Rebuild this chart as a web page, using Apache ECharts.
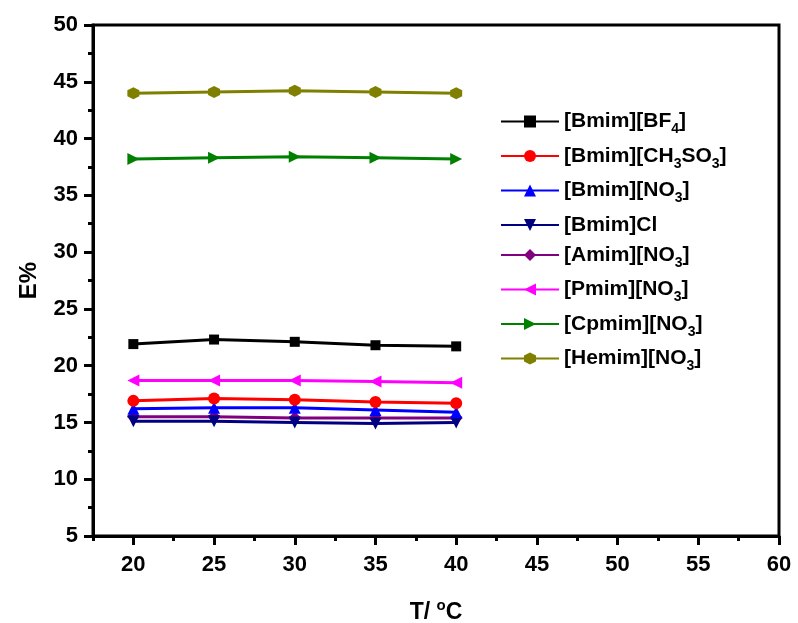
<!DOCTYPE html>
<html>
<head>
<meta charset="utf-8">
<script src="https://cdn.jsdelivr.net/npm/echarts@6/dist/echarts.min.js"></script>
<style>
  html, body { margin: 0; padding: 0; background: #fff; }
  #chart { width: 798px; height: 623px; }
</style>
</head>
<body>
<div id="chart"></div>
<script>
const temps = [20, 25, 30, 35, 40]
const names = ['[Bmim][BF4]', '[Bmim][CH3SO3]', '[Bmim][NO3]', '[Bmim]Cl', '[Amim][NO3]', '[Pmim][NO3]', '[Cpmim][NO3]', '[Hemim][NO3]']
const legendLabels = ['[Bmim][BF{s|4}]', '[Bmim][CH{s|3}SO{s|3}]', '[Bmim][NO{s|3}]', '[Bmim]Cl', '[Amim][NO{s|3}]', '[Pmim][NO{s|3}]', '[Cpmim][NO{s|3}]', '[Hemim][NO{s|3}]']
const bf4 = [21.9, 22.3, 22.1, 21.8, 21.7]
const ch3so3 = [16.9, 17.1, 17.0, 16.8, 16.7]
const no3 = [16.2, 16.3, 16.3, 16.1, 15.9]
const cl = [15.1, 15.1, 15.0, 14.9, 15.0]
const amim = [15.5, 15.5, 15.4, 15.4, 15.4]
const pmim = [18.7, 18.7, 18.7, 18.6, 18.5]
const cpmim = [38.2, 38.3, 38.4, 38.3, 38.2]
const hemim = [44.0, 44.1, 44.2, 44.1, 44.0]
const xMajor = [20, 25, 30, 35, 40, 45, 50, 55, 60]
const xMinor = [17.5, 22.5, 27.5, 32.5, 37.5, 42.5, 47.5, 52.5, 57.5]

const allData = [bf4, ch3so3, no3, cl, amim, pmim, cpmim, hemim]
const colors = ['#000000', '#ff0000', '#0000ff', '#000080', '#800080', '#ff00ff', '#008000', '#808000']
const hexagon = 'path://M0,-10L8.66,-5L8.66,5L0,10L-8.66,5L-8.66,-5Z'
const symbols = ['rect', 'circle', 'triangle', 'triangle', 'diamond', 'triangle', 'triangle', hexagon]
const rotates = [0, 0, 0, 180, 0, 90, -90, 0]
const sizes = [10, 12, 12, 12, 13, 12, 12, 12]

const font = 'Liberation Sans'
const chart = echarts.init(document.getElementById('chart'))

const series = names.map((n, i) => ({
  name: n,
  type: 'line',
  data: temps.map((t, j) => [t, allData[i][j]]),
  color: colors[i],
  symbol: symbols[i],
  symbolRotate: rotates[i],
  symbolSize: sizes[i],
  lineStyle: { width: 3 },
  itemStyle: { color: colors[i] },
  z: 10 - i
}))

const option = {
  animation: false,
  backgroundColor: '#fff',
  grid: {
    left: 93, right: 19, top: 25, bottom: 87,
    containLabel: false,
    outerBoundsMode: 'none',
    show: true, borderColor: '#000', borderWidth: 3
  },
  legend: {
    orient: 'vertical',
    left: 495,
    top: 106,
    itemWidth: 58,
    itemHeight: 15,
    itemGap: 9,
    data: names,
    formatter: (n) => legendLabels[names.indexOf(n)],
    textStyle: {
      fontFamily: font, fontWeight: 'bold', fontSize: 21, color: '#000',
      rich: {
        s: { fontFamily: font, fontWeight: 'bold', fontSize: 14, color: '#000', verticalAlign: 'bottom', padding: [16, 0, 0, 0] }
      }
    }
  },
  xAxis: [
    {
      type: 'value', min: 17.5, max: 60,
      name: '{a|T/ }{b|o}{a|C}',
      nameLocation: 'middle', nameGap: 62,
      nameTextStyle: {
        rich: {
          a: { fontFamily: font, fontWeight: 'bold', fontSize: 23, color: '#000' },
          b: { fontFamily: font, fontWeight: 'bold', fontSize: 15, color: '#000', padding: [0, 0, 14, 0] }
        }
      },
      axisLine: { lineStyle: { color: '#000', width: 3 } },
      axisTick: { show: true, inside: false, length: 9, lineStyle: { width: 3 }, customValues: xMajor },
      axisLabel: { customValues: xMajor, margin: 18, fontFamily: font, fontWeight: 'bold', fontSize: 22, color: '#000' },
      splitLine: { show: false }
    },
    {
      type: 'value', min: 17.5, max: 60, position: 'bottom',
      axisLine: { show: false },
      axisTick: { show: true, inside: false, length: 5, lineStyle: { width: 3, color: '#000' }, customValues: xMinor },
      axisLabel: { show: false },
      splitLine: { show: false }
    }
  ],
  yAxis: {
    type: 'value', min: 5, max: 50, interval: 5,
    name: 'E%', nameLocation: 'middle', nameGap: 52,
    nameTextStyle: { fontFamily: font, fontWeight: 'bold', fontSize: 24, color: '#000' },
    axisLine: { lineStyle: { color: '#000', width: 3 } },
    axisTick: { show: true, inside: false, length: 9, lineStyle: { width: 3 } },
    minorTick: { show: true, splitNumber: 2, length: 5, lineStyle: { width: 3, color: '#000' } },
    axisLabel: { margin: 15, fontFamily: font, fontWeight: 'bold', fontSize: 22, color: '#000' },
    splitLine: { show: false }
  },
  series: series
}

chart.setOption(option)
</script>
</body>
</html>
